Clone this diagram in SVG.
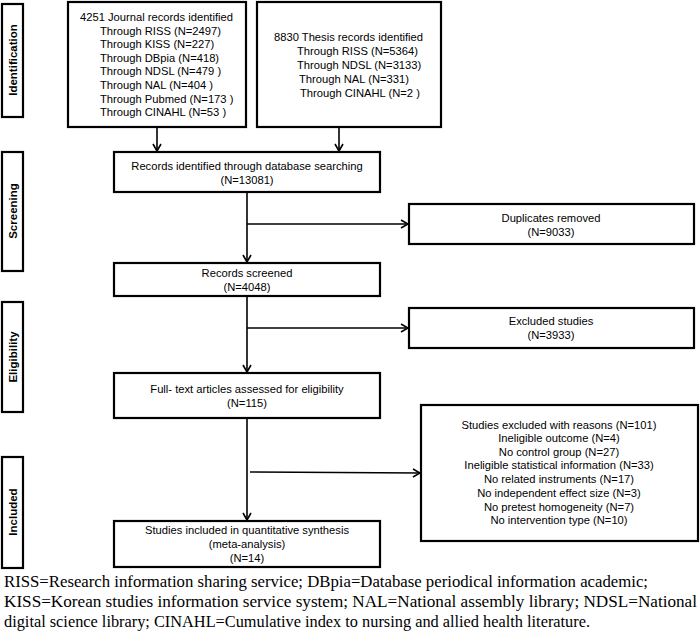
<svg xmlns="http://www.w3.org/2000/svg" width="700" height="640" viewBox="0 0 700 640">
<style>
.box{fill:#fff;stroke:#000;stroke-width:2.2}
.t{font-family:"Liberation Sans","DejaVu Sans",sans-serif;font-size:11.2px;fill:#000}
.c{text-anchor:middle}
.side{font-family:"Liberation Sans","DejaVu Sans",sans-serif;font-size:11.5px;font-weight:bold;text-anchor:middle;fill:#000}
.cap{font-family:"Liberation Serif","Times New Roman",serif;font-size:16px;fill:#000}
.ln{fill:none;stroke:#000;stroke-width:1.6}
</style>
<defs>
<marker id="arr" viewBox="0 0 10 10" refX="9" refY="5" markerWidth="10" markerHeight="10" markerUnits="userSpaceOnUse" orient="auto">
<path d="M2,1 L9,5 L2,9" fill="none" stroke="#000" stroke-width="1.6"/>
</marker>
</defs>
<rect width="700" height="640" fill="#fff"/>

<g id="stage-identification"><rect class="box" x="2" y="4" width="21" height="113"/><text class="side" transform="translate(16.5,60) rotate(-90)">Identification</text></g>
<g id="stage-screening"><rect class="box" x="2" y="152" width="21" height="119"/><text class="side" transform="translate(16.5,211) rotate(-90)">Screening</text></g>
<g id="stage-eligibility"><rect class="box" x="2" y="302" width="21" height="110"/><text class="side" transform="translate(16.5,357) rotate(-90)">Eligibility</text></g>
<g id="stage-included"><rect class="box" x="2" y="457" width="21" height="111"/><text class="side" transform="translate(16.5,512) rotate(-90)">Included</text></g>

<g id="journal">
<rect class="box" x="68" y="2" width="178" height="125"/>
<text class="t" x="80" y="21">4251 Journal records identified</text>
<text class="t" x="100" y="35">Through RISS (N=2497)</text>
<text class="t" x="100" y="48">Through KISS (N=227)</text>
<text class="t" x="100" y="62">Through DBpia  (N=418)</text>
<text class="t" x="100" y="75">Through NDSL  (N=479 )</text>
<text class="t" x="100" y="89">Through NAL (N=404  )</text>
<text class="t" x="100" y="103">Through Pubmed  (N=173 )</text>
<text class="t" x="100" y="116">Through CINAHL  (N=53 )</text>
</g>

<g id="thesis">
<rect class="box" x="257" y="2" width="184" height="125"/>
<text class="t" x="274" y="41">8830 Thesis records identified</text>
<text class="t" x="297" y="55">Through RISS (N=5364)</text>
<text class="t" x="297" y="69">Through NDSL  (N=3133)</text>
<text class="t" x="299" y="83">Through NAL (N=331)</text>
<text class="t" x="300" y="97">Through CINAHL  (N=2 )</text>
</g>

<g id="identified">
<rect class="box" x="114" y="152" width="266" height="40"/>
<text class="t c" x="247" y="170">Records identified through database searching</text>
<text class="t c" x="247" y="184">(N=13081)</text>
</g>

<g id="duplicates">
<rect class="box" x="409" y="204" width="285" height="40"/>
<text class="t c" x="551" y="222">Duplicates removed</text>
<text class="t c" x="551" y="236">(N=9033)</text>
</g>

<g id="screened">
<rect class="box" x="114" y="263" width="266" height="33"/>
<text class="t c" x="247" y="277">Records screened</text>
<text class="t c" x="247" y="291">(N=4048)</text>
</g>

<g id="excluded">
<rect class="box" x="409" y="308" width="285" height="40"/>
<text class="t c" x="551" y="325">Excluded studies</text>
<text class="t c" x="551" y="339">(N=3933)</text>
</g>

<g id="fulltext">
<rect class="box" x="114" y="373" width="266" height="45"/>
<text class="t c" x="247" y="393">Full- text articles assessed for eligibility</text>
<text class="t c" x="247" y="407">(N=115)</text>
</g>

<g id="reasons">
<rect class="box" x="421" y="405" width="277" height="136"/>
<text class="t c" x="559" y="429">Studies excluded  with reasons (N=101)</text>
<text class="t c" x="559" y="442">Ineligible outcome (N=4)</text>
<text class="t c" x="559" y="456">No control group (N=27)</text>
<text class="t c" x="559" y="469">Ineligible statistical information  (N=33)</text>
<text class="t c" x="559" y="483">No related instruments (N=17)</text>
<text class="t c" x="559" y="497">No independent effect size (N=3)</text>
<text class="t c" x="559" y="511">No pretest homogeneity (N=7)</text>
<text class="t c" x="559" y="524">No intervention type (N=10)</text>
</g>

<g id="included">
<rect class="box" x="114" y="521" width="266" height="46"/>
<text class="t c" x="247" y="534">Studies included  in quantitative synthesis</text>
<text class="t c" x="247" y="548">(meta-analysis)</text>
<text class="t c" x="247" y="562">(N=14)</text>
</g>

<g id="connectors">
<line class="ln" x1="157" y1="128" x2="157" y2="151" marker-end="url(#arr)"/>
<line class="ln" x1="339" y1="128" x2="339" y2="151" marker-end="url(#arr)"/>
<line class="ln" x1="247" y1="193" x2="247" y2="262" marker-end="url(#arr)"/>
<line class="ln" x1="247" y1="224" x2="408" y2="224" marker-end="url(#arr)"/>
<line class="ln" x1="247" y1="297" x2="247" y2="372" marker-end="url(#arr)"/>
<line class="ln" x1="247" y1="328" x2="408" y2="328" marker-end="url(#arr)"/>
<line class="ln" x1="247" y1="419" x2="247" y2="520" marker-end="url(#arr)"/>
<line class="ln" x1="250" y1="472" x2="420" y2="473" marker-end="url(#arr)"/>
</g>

<g id="caption">
<text class="cap" x="4" y="587" textLength="644" lengthAdjust="spacingAndGlyphs">RISS=Research information sharing service; DBpia=Database periodical information academic;</text>
<text class="cap" x="4" y="607" textLength="693" lengthAdjust="spacingAndGlyphs">KISS=Korean studies information service system; NAL=National assembly library; NDSL=National</text>
<text class="cap" x="4" y="627" textLength="586" lengthAdjust="spacingAndGlyphs">digital science library; CINAHL=Cumulative index to nursing and allied health literature.</text>
</g>
</svg>
